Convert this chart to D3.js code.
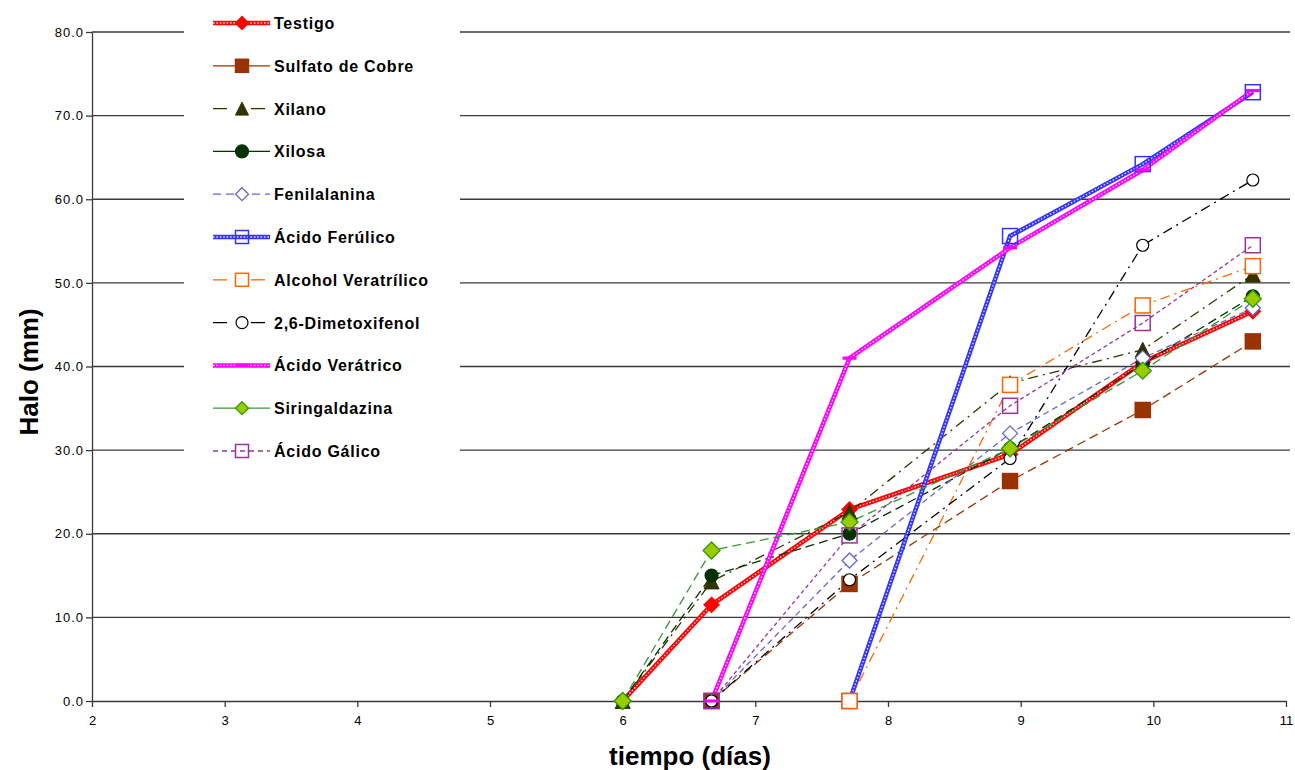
<!DOCTYPE html>
<html>
<head>
<meta charset="utf-8">
<script src="https://cdn.jsdelivr.net/npm/d3@7"></script>
<style>
  html, body { margin: 0; padding: 0; background: #fff; }
  svg { display: block; }
  text { font-family: "Liberation Sans", Arial, sans-serif; }
</style>
</head>
<body>
<svg id="chart" width="1295" height="770"></svg>
<script>
// Sampling days (x values)
const dias = [6, 6.67, 7.71, 8.92, 9.92, 10.75];

// Halo diameter (mm) per treatment; null = not yet measured
const testigo      = [0, 11.5, 22.9, 29.5, 40.5, 46.6];
const sulfatoCobre = [null, 0, 14.0, 26.3, 34.8, 43.0];
const xilano       = [0, 14.3, 22.6, 38.0, 42.0, 51.0];
const xilosa       = [0, 15.0, 20.0, 30.2, 40.3, 48.4];
const fenilalanina = [null, 0, 16.8, 32.0, 41.0, 47.0];
const acFerulico   = [null, null, 0, 55.6, 64.2, 72.8];
const alcVeratril  = [null, null, 0, 37.8, 47.3, 52.0];
const dimetoxifen  = [null, 0, 14.5, 29.0, 54.5, 62.3];
const acVeratrico  = [null, 0, 41.0, 54.2, 63.5, 73.0];
const siringald    = [0, 18.0, 21.4, 30.2, 39.5, 48.1];
const acGalico     = [null, 0, 19.8, 35.3, 45.2, 54.5];

const nombres = ["Testigo", "Sulfato de Cobre", "Xilano", "Xilosa", "Fenilalanina",
  "Ácido Ferúlico", "Alcohol Veratrílico", "2,6-Dimetoxifenol", "Ácido Verátrico",
  "Siringaldazina", "Ácido Gálico"];
const valores = [testigo, sulfatoCobre, xilano, xilosa, fenilalanina, acFerulico,
  alcVeratril, dimetoxifen, acVeratrico, siringald, acGalico];

const xTicks = [2, 3, 4, 5, 6, 7, 8, 9, 10, 11];
const yTicks = [0, 10, 20, 30, 40, 50, 60, 70, 80];

// Drawing style per series
const estilos = [
  {color: "#ff0000", width: 4.5, pattern: true, dash: null, legDash: null, marker: "diamond", fill: "#ff0000", stroke: "#ff0000", size: 15},
  {color: "#993300", width: 1.3, dash: "9,5", legDash: null, marker: "square", fill: "#993300", stroke: "#993300", size: 15},
  {color: "#333300", width: 1.3, dash: "10,5,2,5", legDash: "14,14,2,8", marker: "triangle", fill: "#333300", stroke: "#333300", size: 15},
  {color: "#003300", width: 1.3, dash: "9,5", legDash: null, marker: "circle", fill: "#003300", stroke: "#003300", size: 13},
  {color: "#6666cc", width: 1.3, dash: "6,4", legDash: "8,5", marker: "diamond", fill: "#ffffff", stroke: "#6666cc", size: 15},
  {color: "#3333ff", width: 4.5, pattern: true, dash: null, legDash: null, marker: "square", fill: "none", stroke: "#3333ff", size: 15},
  {color: "#ff6600", width: 1.3, dash: "10,5,2,5", legDash: "14,14,2,8", marker: "square", fill: "#ffffff", stroke: "#ff6600", size: 15},
  {color: "#000000", width: 1.3, dash: "10,5,2,5", legDash: "14,14,2,8", marker: "circle", fill: "#ffffff", stroke: "#000000", size: 12},
  {color: "#ff00ff", width: 4.5, pattern: true, dash: null, legDash: null, marker: "bar", fill: "#ff00ff", stroke: "#ff00ff", size: 14},
  {color: "#339933", width: 1.3, dash: "9,5", legDash: null, marker: "diamond", fill: "#99cc00", stroke: "#339900", size: 17},
  {color: "#993399", width: 1.3, dash: "4,3", legDash: "5,4", marker: "square", fill: "none", stroke: "#993399", size: 15}
];

const svg = d3.select("#chart");
const plot = {left: 92, right: 1286, top: 32, bottom: 701};

const x = d3.scaleLinear().domain([2, 11]).range([plot.left, plot.right]);
const y = d3.scaleLinear().domain([0, 80]).range([plot.bottom, plot.top]);

// Horizontal gridlines
svg.append("g")
  .selectAll("line")
  .data(yTicks.filter(t => t > 0))
  .join("line")
  .attr("x1", plot.left).attr("x2", plot.right + 4)
  .attr("y1", d => y(d)).attr("y2", d => y(d))
  .attr("stroke", "#3a3a3a").attr("stroke-width", 1.3);

// Y axis
const yAxis = d3.axisLeft(y).tickValues(yTicks).tickFormat(d3.format(".1f")).tickSize(6).tickSizeOuter(0);
const gy = svg.append("g").attr("transform", `translate(${plot.left},0)`).call(yAxis);
gy.select(".domain").attr("stroke", "#3a3a3a").attr("stroke-width", 1.3);
gy.selectAll(".tick line").attr("stroke", "#3a3a3a").attr("stroke-width", 1.3);
gy.selectAll(".tick text").attr("font-size", 13).attr("fill", "#000").attr("letter-spacing", 1)
  .attr("font-family", "'Liberation Sans', Arial, sans-serif").attr("x", -8);

// X axis
const xAxis = d3.axisBottom(x).tickValues(xTicks).tickFormat(d3.format("d")).tickSize(6).tickSizeOuter(0);
const gx = svg.append("g").attr("transform", `translate(0,${plot.bottom})`).call(xAxis);
gx.select(".domain").attr("stroke", "#3a3a3a").attr("stroke-width", 1.5);
gx.selectAll(".tick line").attr("stroke", "#3a3a3a").attr("stroke-width", 1.3);
gx.selectAll(".tick text").attr("font-size", 13).attr("fill", "#000")
  .attr("font-family", "'Liberation Sans', Arial, sans-serif").attr("y", 15);

// Axis titles
svg.append("text")
  .attr("transform", `translate(${38},${372}) rotate(-90)`)
  .attr("text-anchor", "middle")
  .attr("font-size", 26).attr("font-weight", "bold")
  .text("Halo (mm)");
svg.append("text")
  .attr("x", 690).attr("y", 765)
  .attr("text-anchor", "middle")
  .attr("font-size", 26).attr("font-weight", "bold")
  .text("tiempo (días)");

// Marker shapes
function drawMarker(g, e, cx, cy) {
  const s = e.size;
  if (e.marker === "diamond") {
    const h = s / 2;
    g.append("path").attr("d", `M${cx},${cy - h}L${cx + h},${cy}L${cx},${cy + h}L${cx - h},${cy}Z`)
      .attr("fill", e.fill).attr("stroke", e.stroke).attr("stroke-width", 1.3);
  } else if (e.marker === "square") {
    g.append("rect").attr("x", cx - s / 2).attr("y", cy - s / 2).attr("width", s).attr("height", s)
      .attr("fill", e.fill).attr("stroke", e.stroke).attr("stroke-width", 1.5);
  } else if (e.marker === "triangle") {
    const h = s / 2;
    g.append("path").attr("d", `M${cx},${cy - h}L${cx + h},${cy + h}L${cx - h},${cy + h}Z`)
      .attr("fill", e.fill).attr("stroke", e.stroke).attr("stroke-width", 1);
  } else if (e.marker === "circle") {
    g.append("circle").attr("cx", cx).attr("cy", cy).attr("r", s / 2)
      .attr("fill", e.fill).attr("stroke", e.stroke).attr("stroke-width", 1.2);
  } else if (e.marker === "bar") {
    g.append("rect").attr("x", cx - s / 2).attr("y", cy - 1.6).attr("width", s).attr("height", 3.2)
      .attr("fill", e.fill);
  }
}

// Stroke a path with the series style (patterned lines get a white dotted overlay)
function strokePath(g, d, e, dash) {
  g.append("path").attr("d", d).attr("fill", "none")
    .attr("stroke", e.color).attr("stroke-width", e.width)
    .attr("stroke-dasharray", dash).attr("stroke-linejoin", "round");
  if (e.pattern) {
    g.append("path").attr("d", d).attr("fill", "none")
      .attr("stroke", "#ffffff").attr("stroke-width", 1.3)
      .attr("stroke-dasharray", "1.6,1.8").attr("opacity", 0.85);
  }
}

const line = d3.line()
  .defined(d => d.v !== null)
  .x(d => x(d.t))
  .y(d => y(d.v));

const series = nombres.map((n, i) => ({
  nombre: n,
  estilo: estilos[i],
  puntos: dias.map((t, j) => ({t: t, v: valores[i][j]}))
}));

// Lines
const gLines = svg.append("g");
series.forEach(s => {
  strokePath(gLines, line(s.puntos), s.estilo, s.estilo.dash);
});

// Markers
const gMarks = svg.append("g");
series.forEach(s => {
  s.puntos.filter(p => p.v !== null).forEach(p => {
    drawMarker(gMarks, s.estilo, x(p.t), y(p.v));
  });
});

// Legend
const leg = svg.append("g");
leg.append("rect").attr("x", 184).attr("y", 0).attr("width", 276).attr("height", 472).attr("fill", "#fff");
series.forEach((s, i) => {
  const ly = 23 + i * 42.8;
  strokePath(leg, `M213,${ly}L270,${ly}`, s.estilo, s.estilo.legDash);
  drawMarker(leg, Object.assign({}, s.estilo, {size: s.estilo.marker === "bar" ? 13 : Math.min(s.estilo.size, 13)}), 242, ly);
  leg.append("text").attr("x", 274).attr("y", ly + 6)
    .attr("font-size", 16).attr("font-weight", "bold").attr("letter-spacing", 0.75)
    .text(s.nombre);
});
</script>
</body>
</html>
